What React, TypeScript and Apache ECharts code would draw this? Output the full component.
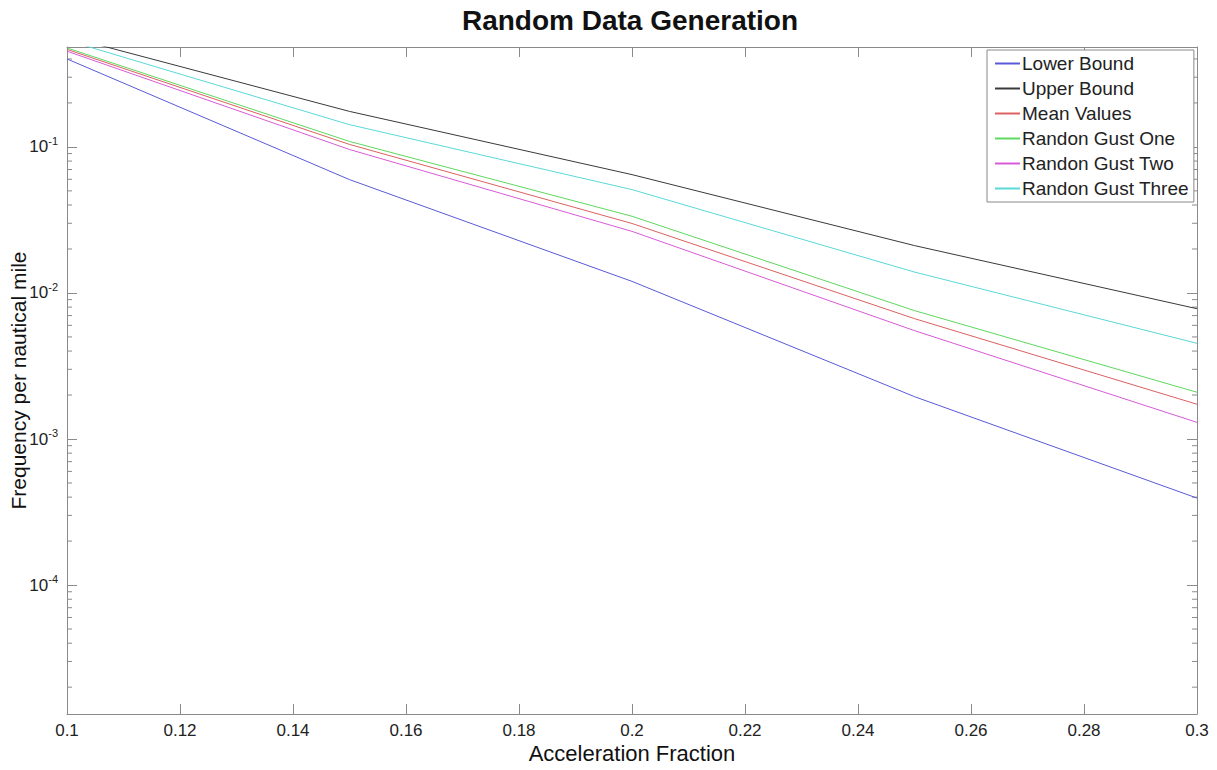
import React, { useEffect, useRef } from 'react';
import * as echarts from 'echarts';

const xValues = [0.1, 0.15, 0.2, 0.25, 0.3];
const lowerBound = [0.4, 0.0597, 0.012, 0.00195, 0.000394];
const upperBound = [0.57, 0.175, 0.0646, 0.0211, 0.0078];
const meanValues = [0.465, 0.104, 0.0299, 0.00667, 0.00173];
const gustOne = [0.476, 0.109, 0.0335, 0.00757, 0.00209];
const gustTwo = [0.452, 0.096, 0.0264, 0.00552, 0.0013];
const gustThree = [0.537, 0.142, 0.051, 0.0139, 0.00452];

const seriesNames = [
  'Lower Bound',
  'Upper Bound',
  'Mean Values',
  'Randon Gust One',
  'Randon Gust Two',
  'Randon Gust Three',
];
const seriesColors = ['#5a5ad8', '#3a3a3a', '#dc6060', '#5ed85e', '#d85ad8', '#5ad8d8'];
const seriesValues = [lowerBound, upperBound, meanValues, gustOne, gustTwo, gustThree];

const X_MIN = 0.1;
const X_MAX = 0.3;
const X_INTERVAL = 0.02;
const Y_MIN = 1.31e-5;
const Y_MAX = 0.483;

const minorDecades = [-5, -4, -3, -2, -1];
const minorMultipliers = [2, 3, 4, 5, 6, 7, 8, 9];

const AXIS_COLOR = '#8a8a8a';
const FONT = '"Liberation Sans", Arial, Helvetica, sans-serif';

export default function App() {
  const ref = useRef<HTMLDivElement>(null);

  useEffect(() => {
    if (!ref.current) return;
    const chart = echarts.init(ref.current, undefined, { renderer: 'svg' });

    const minorTicks: number[][] = [];
    minorDecades.forEach((d) => {
      minorMultipliers.forEach((m) => {
        const v = m * Math.pow(10, d);
        if (v > Y_MIN && v < Y_MAX) minorTicks.push([X_MIN, v]);
      });
    });

    const yLabel = (v: number) => {
      const e = Math.log10(v);
      const r = Math.round(e);
      if (Math.abs(e - r) > 1e-6) return '';
      return '10{sup|' + r + '}';
    };

    const lineSeries = seriesNames.map((name, i) => ({
      name,
      type: 'line',
      data: xValues.map((x, j) => [x, seriesValues[i][j]]),
      symbol: 'none',
      lineStyle: { color: seriesColors[i], width: 1 },
      itemStyle: { color: seriesColors[i] },
      clip: true,
      z: 3,
    }));

    chart.setOption({
      animation: false,
      backgroundColor: '#ffffff',
      textStyle: { fontFamily: FONT },
      title: {
        text: 'Random Data Generation',
        left: 625,
        top: 1,
        textAlign: 'center',
        textStyle: { fontFamily: FONT, fontSize: 28, fontWeight: 'bold', color: '#111' },
      },
      grid: {
        left: 67,
        right: 20,
        top: 47,
        bottom: 56,
        containLabel: false,
        outerBoundsMode: 'none',
      },
      legend: {
        data: seriesNames,
        orient: 'vertical',
        left: 987,
        top: 50,
        padding: [4, 5, 4, 7],
        itemGap: 6,
        itemWidth: 25,
        itemHeight: 14,
        backgroundColor: '#ffffff',
        borderColor: '#888888',
        borderWidth: 1,
        borderRadius: 0,
        itemStyle: { opacity: 0, borderWidth: 0 },
        textStyle: { fontFamily: FONT, fontSize: 19, color: '#222', padding: [0, 0, 0, -3] },
        z: 10,
      },
      xAxis: [
        {
          type: 'value',
          min: X_MIN,
          max: X_MAX,
          interval: X_INTERVAL,
          position: 'bottom',
          name: 'Acceleration Fraction',
          nameLocation: 'middle',
          nameGap: 28,
          nameMoveOverlap: false,
          nameTextStyle: { fontFamily: FONT, fontSize: 22, color: '#111' },
          axisLine: { show: true, lineStyle: { color: AXIS_COLOR, width: 1 } },
          axisTick: { show: true, inside: true, length: 10, lineStyle: { color: AXIS_COLOR } },
          axisLabel: {
            fontFamily: FONT,
            fontSize: 17,
            color: '#222',
            margin: 8,
            formatter: (v: number) => String(parseFloat(v.toFixed(4))),
          },
          splitLine: { show: false },
        },
        {
          type: 'value',
          min: X_MIN,
          max: X_MAX,
          interval: X_INTERVAL,
          position: 'top',
          axisLine: { show: true, lineStyle: { color: AXIS_COLOR, width: 1 } },
          axisTick: { show: true, inside: true, length: 10, lineStyle: { color: AXIS_COLOR } },
          axisLabel: { show: false },
          splitLine: { show: false },
        },
      ],
      yAxis: [
        {
          type: 'log',
          logBase: 10,
          min: Y_MIN,
          max: Y_MAX,
          position: 'left',
          name: 'Frequency per nautical mile',
          nameLocation: 'middle',
          nameGap: 38,
          nameMoveOverlap: false,
          nameTextStyle: { fontFamily: FONT, fontSize: 21, color: '#111' },
          axisLine: { show: true, lineStyle: { color: AXIS_COLOR, width: 1 } },
          axisTick: { show: true, inside: true, length: 10, lineStyle: { color: AXIS_COLOR } },
          axisLabel: {
            fontFamily: FONT,
            fontSize: 17,
            color: '#222',
            margin: 9,
            showMinLabel: false,
            showMaxLabel: false,
            formatter: yLabel,
            rich: {
              sup: { fontFamily: FONT, fontSize: 11, color: '#222', padding: [0, 0, 12, 0] },
            },
          },
          splitLine: { show: false },
        },
        {
          type: 'log',
          logBase: 10,
          min: Y_MIN,
          max: Y_MAX,
          position: 'right',
          axisLine: { show: true, lineStyle: { color: AXIS_COLOR, width: 1 } },
          axisTick: { show: true, inside: true, length: 10, lineStyle: { color: AXIS_COLOR } },
          axisLabel: { show: false },
          splitLine: { show: false },
        },
      ],
      series: [
        ...lineSeries,
        {
          name: 'minorTicks',
          type: 'custom',
          silent: true,
          clip: false,
          data: minorTicks,
          encode: { x: 0, y: 1 },
          renderItem: (params: any, api: any) => {
            const v = api.value(1);
            const pL = api.coord([X_MIN, v]);
            const pR = api.coord([X_MAX, v]);
            return {
              type: 'group',
              children: [
                {
                  type: 'line',
                  shape: { x1: pL[0], y1: pL[1], x2: pL[0] + 5, y2: pL[1] },
                  style: { stroke: AXIS_COLOR, lineWidth: 1 },
                },
                {
                  type: 'line',
                  shape: { x1: pR[0], y1: pR[1], x2: pR[0] - 5, y2: pR[1] },
                  style: { stroke: AXIS_COLOR, lineWidth: 1 },
                },
              ],
            };
          },
          z: 2,
        },
      ],
    });

    return () => chart.dispose();
  }, []);

  return <div ref={ref} style={{ width: 1217, height: 770, position: 'absolute', left: 0, top: 0 }} />;
}
